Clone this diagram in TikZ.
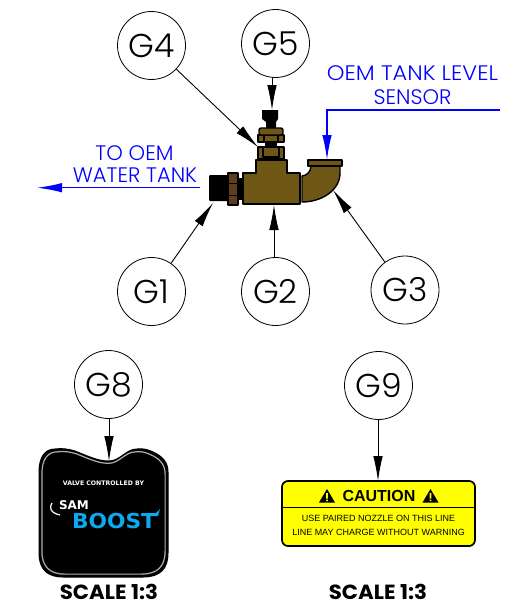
\documentclass[tikz,border=0pt]{standalone}
\usepackage{fontspec}
\setmainfont{Poppins}
\newfontfamily\thinf{Poppins Light}
\newfontfamily\sansb{Liberation Sans}
\newfontfamily\dejab{DejaVu Sans}
\usetikzlibrary{arrows.meta}
\definecolor{brass}{RGB}{110,86,20}
\definecolor{nutbrown}{RGB}{92,62,28}
\definecolor{boostblue}{RGB}{10,170,240}
\definecolor{cautiony}{RGB}{255,255,0}
\definecolor{labelring}{RGB}{175,175,175}
\newcommand{\tagoutline}{(39,472) .. controls (39,457) and (45,449) .. (55,449) .. controls (62,448) and (68,449) .. (75,451) .. controls (88,456) and (97,461) .. (109,461) .. controls (120,461) and (126,449) .. (137,449) .. controls (143,448) and (149,450) .. (153,452) .. controls (162,456) and (168,462) .. (168,472) -- (168,553) .. controls (168,569) and (160,577) .. (143,577) -- (63,577) .. controls (47,577) and (39,569) .. (39,553) -- cycle}
\tikzset{
 x=1pt,y=-1pt,
 balloon/.style={circle,draw=black,line width=0.8pt,fill=white,minimum size=68pt,inner sep=0pt,font=\thinf\fontsize{33}{33}\selectfont},
 leader/.style={draw=black,line width=0.9pt,-{Latex[length=25pt,width=9.5pt]}},
 blueleader/.style={draw=blue,line width=1.5pt,-{Latex[length=25pt,width=9.5pt]}},
 bluetext/.style={text=blue,font=\thinf\fontsize{21}{21}\selectfont,inner sep=0pt},
 scaletext/.style={font=\fontsize{20.5}{20.5}\selectfont\bfseries,inner sep=0pt,anchor=base},
 part/.style={draw=black,line width=1.4pt,fill=brass,line join=round},
 bodytext/.style={inner sep=0pt,font=\sansb\fontsize{9}{9}\selectfont},
}
\begin{document}
\begin{tikzpicture}
\useasboundingbox (0,0) rectangle (523,602);
% valve
\fill[black,rounded corners=1pt] (209,175) rectangle (230,201);
\fill[black] (236,178) rectangle (245,200);
\draw[part,fill=nutbrown] (228,173) rectangle (238,205);
\draw[black,line width=0.8pt] (228,183) -- (238,183) (228,195) -- (238,195);
\draw[part] (302,176) .. controls (306,176) and (311,172) .. (311,166) -- (340,166) -- (340,173) .. controls (340,190) and (322,202) .. (302,202) -- cycle;
\draw[part] (308,160) rectangle (342,166);
\draw[part] (243,173) -- (256,173) -- (256,160) -- (287,160) -- (287,173) -- (300,173) -- (300,204) -- (243,204) -- cycle;
\draw[part] (258,147) rectangle (284,159);
\draw[part] (263,147) rectangle (279,157);
\fill[black] (258,157.5) rectangle (284,160);
\fill[black] (265,141) rectangle (277,147);
\draw[part] (258,135) rectangle (284,142);
\draw[part] (264,135) rectangle (278,142);
\draw[part,rounded corners=2pt] (259,128) rectangle (283,135);
\fill[black] (262,110) -- (278,110) -- (278,119) -- (276,122) -- (276,128) -- (266,128) -- (266,122) -- (262,119) -- cycle;
% coordinates
\coordinate (tg4) at (258,147);
\coordinate (tg5) at (272,110);
\coordinate (tg1) at (213,203);
\coordinate (tg2) at (274,205);
\coordinate (tg3) at (333,190);
\coordinate (tg8) at (109,461);
\coordinate (tg9) at (378,481);
\coordinate (sensortip) at (327,160);
\coordinate (sensorcorner) at (327,110);
\coordinate (sensorend) at (500,110);
\coordinate (tankstart) at (200,187.7);
\coordinate (tanktip) at (37,187.7);
% balloons
\node[balloon] (g4) at (151.5,45.5) {G4};
\node[balloon] (g5) at (275.5,43.5) {G5};
\node[balloon] (g1) at (151.5,291.5) {G1};
\node[balloon] (g2) at (275.5,291.5) {G2};
\node[balloon] (g3) at (405,290) {G3};
\node[balloon] (g8) at (108.5,384.5) {G8};
\node[balloon] (g9) at (378.5,385.5) {G9};
\draw[leader] (g4) -- (tg4);
\draw[leader] (tg5 |- g5.south) -- (tg5);
\draw[leader] (g1) -- (tg1);
\draw[leader] (tg2 |- g2.north) -- (tg2);
\draw[leader] (g3) -- (tg3);
\draw[leader] (tg8 |- g8.south) -- (tg8);
\draw[leader] (tg9 |- g9.south) -- (tg9);
% blue notes
\node[bluetext] (sensor1) at (412.5,73) {\scalebox{1.07}[1]{OEM TANK LEVEL}};
\node[bluetext] (sensor2) at (412.5,97) {SENSOR};
\node[bluetext] (tank1) at (134.5,153) {TO OEM};
\node[bluetext] (tank2) at (135,175.5) {WATER TANK};
\draw[blueleader] (sensorend) -- (sensorcorner) -- (sensortip);
\draw[blueleader] (tankstart) -- (tanktip);
% black tag
\draw[black,line width=1pt,fill=black] \tagoutline;
\draw[labelring,line width=1.2pt,shift={(103.5,512.5)},scale=.955,shift={(-103.5,-512.5)}] \tagoutline;
\node[text=white,inner sep=0pt,font=\dejab\bfseries\fontsize{6.2}{6.2}\selectfont] (tagtitle) at (103.5,483) {VALVE CONTROLLED BY};
\node[text=white,inner sep=0pt,font=\dejab\bfseries\fontsize{12}{12}\selectfont] (sam) at (74,505.5) {SAM};
\draw[white,line width=1.2pt] (52,503) .. controls (49,507) and (50,513) .. (60,515);
\node[text=boostblue,inner sep=0pt,font=\dejab\bfseries\fontsize{20.5}{20.5}\selectfont] (boost) at (114,521) {\scalebox{1.06}[1]{BOOST}};
\fill[boostblue] (146,513) -- (156,513) -- (160,509) -- (158,516) -- (146,516) -- cycle;
% caution label
\draw[black,line width=1.7pt,fill=cautiony,rounded corners=6pt] (282,481) rectangle (475,546);
\draw[black,line width=1pt] (283,507) -- (474,507);
\node[inner sep=0pt,font=\sansb\bfseries\fontsize{16}{16}\selectfont] (caution) at (379,495.5) {CAUTION};
\fill[black] (319,502.5) -- (327,489) -- (335,502.5) -- cycle;
\fill[black] (422.5,502.5) -- (430.5,489) -- (438.5,502.5) -- cycle;
\fill[cautiony] (326.2,493) rectangle (327.8,498.5) (326.2,499.5) rectangle (327.8,501);
\fill[cautiony] (429.7,493) rectangle (431.3,498.5) (429.7,499.5) rectangle (431.3,501);
\node[bodytext] (cbody1) at (378.5,518.5) {USE PAIRED NOZZLE ON THIS LINE};
\node[bodytext] (cbody2) at (378.5,532) {LINE MAY CHARGE WITHOUT WARNING};
% scale
\node[scaletext] (s1) at (109,599.5) {\scalebox{1.04}[1]{SCALE 1:3}};
\node[scaletext] (s2) at (378,599.5) {\scalebox{1.04}[1]{SCALE 1:3}};
\end{tikzpicture}
\end{document}
